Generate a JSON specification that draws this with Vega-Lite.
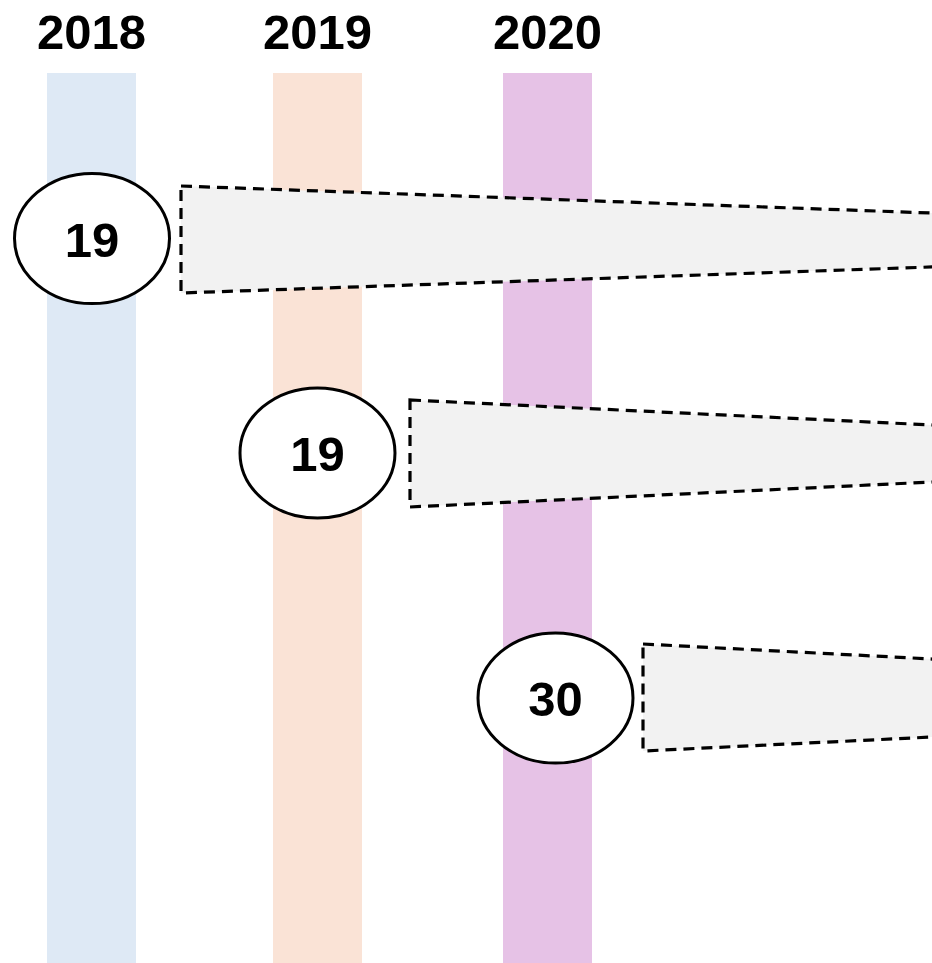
{
  "$schema": "https://vega.github.io/schema/vega-lite/v6.json",
  "width": 932,
  "height": 963,
  "padding": 0,
  "autosize": "none",
  "background": "white",
  "config": {"view": {"stroke": null}},
  "datasets": {
    "bands": [
      {"year": "2018", "x0": 47, "x1": 136, "y0": 73, "y1": 963, "c": "#dee9f5"},
      {"year": "2019", "x0": 273, "x1": 362, "y0": 73, "y1": 963, "c": "#fae3d6"},
      {"year": "2020", "x0": 503, "x1": 592, "y0": 73, "y1": 963, "c": "#e6c2e6"}
    ],
    "labels": [
      {"year": "2018", "x": 91.5, "y": 32},
      {"year": "2019", "x": 317.5, "y": 32},
      {"year": "2020", "x": 547.5, "y": 32}
    ],
    "traps": [
      {"id": "a", "x": 181, "top": 186, "bot": 293},
      {"id": "a", "x": 945, "top": 213.5, "bot": 266.5},
      {"id": "b", "x": 410, "top": 400, "bot": 507},
      {"id": "b", "x": 945, "top": 425.6, "bot": 481.4},
      {"id": "c", "x": 643, "top": 644, "bot": 751},
      {"id": "c", "x": 945, "top": 659.7, "bot": 736.4}
    ],
    "bubbles": [
      {"id": "a", "value": "19", "x": 92, "y": 238.5},
      {"id": "b", "value": "19", "x": 317.5, "y": 453},
      {"id": "c", "value": "30", "x": 555.5, "y": 698}
    ]
  },
  "layer": [
    {
      "data": {"name": "bands"},
      "mark": {"type": "rect"},
      "encoding": {
        "x": {"field": "x0", "type": "quantitative", "scale": {"domain": [0, 932], "nice": false, "zero": false}, "axis": null},
        "x2": {"field": "x1"},
        "y": {"field": "y0", "type": "quantitative", "scale": {"domain": [0, 963], "nice": false, "zero": false, "reverse": true}, "axis": null},
        "y2": {"field": "y1"},
        "color": {"field": "c", "type": "nominal", "scale": null, "legend": null}
      }
    },
    {
      "data": {"name": "labels"},
      "mark": {"type": "text", "font": "Liberation Sans", "fontWeight": "bold", "fontSize": 49, "color": "black", "align": "center", "baseline": "middle", "dy": 2},
      "encoding": {
        "x": {"field": "x", "type": "quantitative"},
        "y": {"field": "y", "type": "quantitative"},
        "text": {"field": "year"}
      }
    },
    {
      "data": {"name": "traps"},
      "mark": {"type": "area", "clip": true, "fill": "#f2f2f2", "fillOpacity": 1, "stroke": "black", "strokeWidth": 3.2, "strokeDash": [11, 7], "interpolate": "linear"},
      "encoding": {
        "x": {"field": "x", "type": "quantitative"},
        "y": {"field": "top", "type": "quantitative"},
        "y2": {"field": "bot"},
        "detail": {"field": "id"}
      }
    },
    {
      "data": {"name": "bubbles"},
      "mark": {"type": "point", "shape": "M -1 0 A 1 0.84 0 1 0 1 0 A 1 0.84 0 1 0 -1 0 Z", "size": 24025, "filled": true, "fill": "white", "stroke": "black", "strokeWidth": 3, "opacity": 1, "fillOpacity": 1, "strokeOpacity": 1},
      "encoding": {
        "x": {"field": "x", "type": "quantitative"},
        "y": {"field": "y", "type": "quantitative"}
      }
    },
    {
      "data": {"name": "bubbles"},
      "mark": {"type": "text", "font": "Liberation Sans", "fontWeight": "bold", "fontSize": 49, "color": "black", "align": "center", "baseline": "middle", "dy": 3},
      "encoding": {
        "x": {"field": "x", "type": "quantitative"},
        "y": {"field": "y", "type": "quantitative"},
        "text": {"field": "value"}
      }
    }
  ]
}
